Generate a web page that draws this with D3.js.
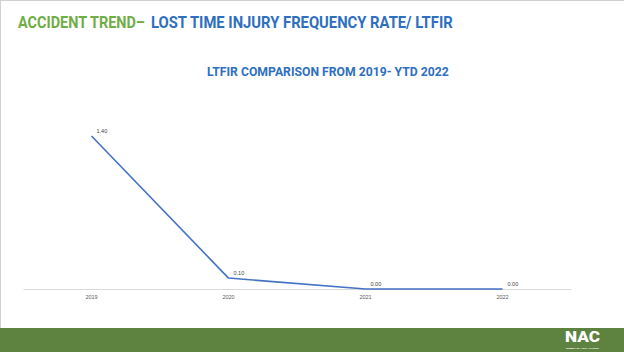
<!DOCTYPE html>
<html><head><meta charset="utf-8">
<script src="https://cdn.jsdelivr.net/npm/d3@7"></script>
<style>html,body{margin:0;padding:0;background:#fff;}svg{display:block;}</style>
</head><body>
<svg id="c" width="624" height="352"></svg>
<script>
const categories = ["2019", "2020", "2021", "2022"];
const ltfir = [1.40, 0.10, 0.00, 0.00];
const labels = ["1.40", "0.10", "0.00", "0.00"];

const svg = d3.select("#c");
const W = 624, H = 352;
svg.append("rect").attr("width", W).attr("height", H).attr("fill", "#fff");
// slide border
svg.append("line").attr("x1", 0).attr("x2", W).attr("y1", 0.5).attr("y2", 0.5).attr("stroke", "#d0d0d0");
svg.append("line").attr("x1", 0.5).attr("x2", 0.5).attr("y1", 0).attr("y2", H).attr("stroke", "#d0d0d0");

const tf = "Roboto, 'Liberation Sans', sans-serif";
// condensed text helper: scales horizontally to fit target width
function fitText(x0, y0, width, size, color, weight, str) {
  const g = svg.append("g");
  const t = g.append("text").attr("x", 0).attr("y", 0)
    .attr("font-family", tf).attr("font-weight", weight).attr("font-size", size)
    .attr("fill", color).text(str);
  const w = t.node().getComputedTextLength();
  g.attr("transform", `translate(${x0},${y0}) scale(${width / w},1)`);
  return t;
}
fitText(18, 28, 127, 17, "#70ad47", "bold", "ACCIDENT TREND–");
fitText(151, 28, 302, 17, "#2e6fc0", "bold", "LOST TIME INJURY FREQUENCY RATE/ LTFIR");
fitText(207, 76, 242, 12.5, "#2e6fc0", "bold", "LTFIR COMPARISON FROM 2019- YTD 2022");

// Chart
const x = d3.scaleBand().domain(categories).range([23, 571]);
const y = d3.scaleLinear().domain([0, 1.4]).range([289, 136]);

const xAxis = svg.append("g").attr("transform", "translate(0,289)")
  .call(d3.axisBottom(x).tickSize(0).tickPadding(6));
xAxis.select(".domain").attr("stroke", "#d9d9d9").attr("stroke-width", 1);
xAxis.selectAll("text").attr("font-family", "'Liberation Sans', Arial, sans-serif")
  .attr("font-size", 5.5).attr("fill", "#595959");

const line = d3.line().x((d, i) => x(categories[i]) + x.bandwidth() / 2).y(d => y(d));
svg.append("path").datum(ltfir).attr("d", line).attr("fill", "none")
  .attr("stroke", "#4472c4").attr("stroke-width", 1.6).attr("stroke-linejoin", "round");

svg.selectAll(".lbl").data(ltfir).enter().append("text")
  .attr("x", (d, i) => x(categories[i]) + x.bandwidth() / 2 + 5)
  .attr("y", d => y(d) - 3)
  .attr("font-family", "'Liberation Sans', Arial, sans-serif")
  .attr("font-size", 5.5).attr("fill", "#404040")
  .text((d, i) => labels[i]);

// Footer bar
svg.append("rect").attr("x", 0).attr("y", 328).attr("width", W).attr("height", H - 328).attr("fill", "#5e8240");
svg.append("text").attr("x", 565).attr("y", 342)
  .attr("font-family", tf).attr("font-weight", "900")
  .attr("font-size", 14).attr("fill", "#fff")
  .attr("textLength", 35).attr("lengthAdjust", "spacingAndGlyphs").text("NAC");
svg.append("text").attr("x", 566).attr("y", 348.5)
  .attr("font-family", "'Liberation Sans', sans-serif").attr("font-weight", "bold")
  .attr("font-size", 2.5).attr("fill", "#fff").attr("textLength", 33).attr("lengthAdjust", "spacingAndGlyphs")
  .text("NIBRAS ASIA CORP");
</script>
</body></html>
